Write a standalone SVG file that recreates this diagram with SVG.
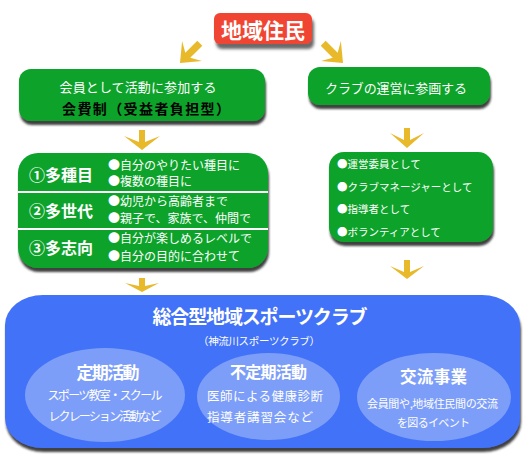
<svg xmlns="http://www.w3.org/2000/svg" width="527" height="463" viewBox="0 0 527 463">
<defs>
<filter id="sh" x="-10%" y="-10%" width="120%" height="130%">
<feDropShadow dx="1" dy="4" stdDeviation="1.2" flood-color="#222" flood-opacity="0.85"/>
</filter>
<filter id="shr" x="-10%" y="-20%" width="130%" height="160%">
<feDropShadow dx="2" dy="5" stdDeviation="1.8" flood-color="#444" flood-opacity="0.8"/>
</filter>
<style>
text{font-family:"Noto Sans CJK JP","Noto Sans CJK SC",sans-serif;fill:#fff}
.green{fill:#08a32a}
.arrow{fill:#e8b92a}
.b{font-weight:bold}
.item{font-size:12px}
.ritem{font-size:10.5px}
.lbl{font-size:16px;font-weight:bold}
.ell{fill:#7d9ef8}
.c{text-anchor:middle}
</style>
</defs>
<g id="connectors">
<path class="arrow" transform="translate(180,63) rotate(45)" d="M0,0 L-14,-17 L-3.5,-11 L-3.5,-28 L3.5,-28 L3.5,-11 L14,-17 Z"/>
<path class="arrow" transform="translate(343,63) rotate(-45)" d="M0,0 L-14,-17 L-3.5,-11 L-3.5,-28 L3.5,-28 L3.5,-11 L14,-17 Z"/>
<path class="arrow" transform="translate(142,150)" d="M0,0 L-18,-14 L-3,-8 L-3,-20 L3,-20 L3,-8 L18,-14 Z"/>
<path class="arrow" transform="translate(407,148)" d="M0,0 L-17,-15 L-3,-8 L-3,-20 L3,-20 L3,-8 L17,-15 Z"/>
<path class="arrow" transform="translate(142,292)" d="M0,0 L-17,-9 L-3,-6 L-3,-14 L3,-14 L3,-6 L17,-9 Z"/>
<path class="arrow" transform="translate(407,279)" d="M0,0 L-17,-13 L-3,-7 L-3,-19 L3,-19 L3,-7 L17,-13 Z"/>
</g>
<g id="residents">
<rect x="214" y="13" width="98" height="31" rx="6" fill="#f04432" filter="url(#shr)"/>
<text x="263" y="38" class="c b" font-size="21">地域住民</text>
</g>
<g id="member">
<rect x="19" y="69" width="246" height="52" rx="12" class="green" filter="url(#sh)"/>
<text x="138" y="92" class="c" font-size="13" textLength="157">会員として活動に参加する</text>
<text x="146" y="114" class="c b" font-size="14" style="fill:#000" textLength="168">会費制（受益者負担型）</text>
</g>
<g id="manage">
<rect x="308" y="67" width="182" height="38" rx="12" class="green" filter="url(#sh)"/>
<text x="325" y="93" font-size="13" textLength="142">クラブの運営に参画する</text>
</g>
<g id="features">
<rect x="18" y="153" width="250" height="115" rx="20" class="green" filter="url(#sh)"/>
<line x1="18" y1="192" x2="268" y2="192" stroke="#fff" stroke-width="2"/>
<line x1="18" y1="229" x2="268" y2="229" stroke="#fff" stroke-width="2"/>
<text x="29" y="181" class="lbl" textLength="64">①多種目</text>
<text x="29" y="217" class="lbl" textLength="64">②多世代</text>
<text x="29" y="254" class="lbl" textLength="64">③多志向</text>
<text x="108" y="170" class="item">●自分のやりたい種目に</text>
<text x="108" y="186" class="item">●複数の種目に</text>
<text x="108" y="206" class="item">●幼児から高齢者まで</text>
<text x="108" y="223" class="item">●親子で、家族で、仲間で</text>
<text x="108" y="243" class="item">●自分が楽しめるレベルで</text>
<text x="108" y="261" class="item">●自分の目的に合わせて</text>
</g>
<g id="roles">
<rect x="329" y="152" width="164" height="90" rx="15" class="green" filter="url(#sh)"/>
<text x="337" y="168" class="ritem">●運営委員として</text>
<text x="337" y="191" class="ritem">●クラブマネージャーとして</text>
<text x="337" y="213" class="ritem">●指導者として</text>
<text x="337" y="236" class="ritem">●ボランティアとして</text>
</g>
<g id="club">
<rect x="5" y="295" width="515" height="153" rx="38" ry="30" fill="#4372f7" filter="url(#sh)"/>
<text x="260" y="324" class="c b" font-size="19" textLength="215">総合型地域スポーツクラブ</text>
<text x="259" y="345" class="c" font-size="10.5" textLength="122">（神流川スポーツクラブ）</text>
</g>
<g id="regular">
<ellipse cx="105" cy="395" rx="80" ry="47" class="ell"/>
<text x="108" y="379" class="c b" font-size="17" textLength="63">定期活動</text>
<text x="105" y="400" class="c" font-size="12" textLength="115">スポーツ教室・スクール</text>
<text x="105" y="421" class="c" font-size="12" textLength="113">レクレーション活動など</text>
</g>
<g id="irregular">
<ellipse cx="268.5" cy="396.5" rx="71.5" ry="43.5" class="ell"/>
<text x="268.5" y="378" class="c b" font-size="16" textLength="77">不定期活動</text>
<text x="207" y="401" font-size="12.5" textLength="116">医師による健康診断</text>
<text x="207" y="422" font-size="12.5" textLength="106">指導者講習会など</text>
</g>
<g id="exchange">
<ellipse cx="434" cy="397" rx="77" ry="44" class="ell"/>
<text x="433.5" y="383" class="c b" font-size="16.5" textLength="67">交流事業</text>
<text x="432.5" y="408" class="c" font-size="11" textLength="131">会員間や,地域住民間の交流</text>
<text x="433.5" y="427" class="c" font-size="11" textLength="73">を図るイベント</text>
</g>
</svg>
